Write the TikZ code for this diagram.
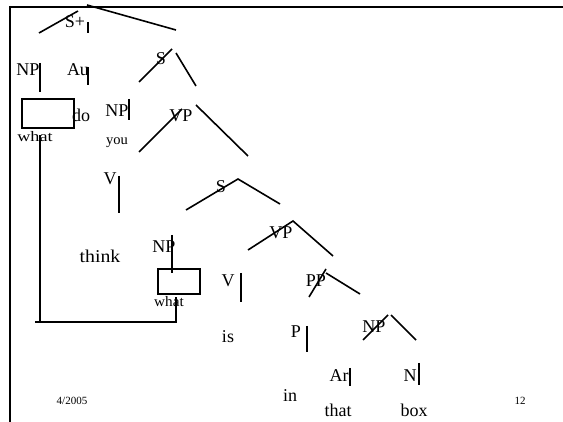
\documentclass[tikz,border=0pt]{standalone}
\usepackage{fontspec}
\setmainfont{Liberation Serif}
\begin{document}
\begin{tikzpicture}[x=1pt,y=-1pt,
  lbl/.style={anchor=base,inner sep=0pt,font=\fontsize{18}{18}\selectfont},
  sml/.style={anchor=base,inner sep=0pt,font=\fontsize{14.5}{15}\selectfont},
  foot/.style={anchor=base,inner sep=0pt,font=\fontsize{11}{11}\selectfont},
  br/.style={line width=1.6pt},
  frame/.style={line width=2.2pt}]
\useasboundingbox (0,0) rectangle (563,422);
% frame
\coordinate (f1) at (9,7); \coordinate (f2) at (563,7);
\coordinate (f3) at (10,6); \coordinate (f4) at (10,422);
\draw[frame] (f1) -- (f2);
\draw[frame] (f3) -- (f4);
% labels
\node[lbl] (splus) at (75,28) {S+};
\node[lbl] (np1) at (28,76) {NP};
\node[lbl] (au) at (78,76) {Au};
\node[lbl] (s1) at (161,65) {S};
\node[lbl] (do) at (81,122) {do};
\node[lbl] (np2) at (117,117) {NP};
\node[lbl] (vp1) at (181,122) {VP};
\node[sml,xscale=1.25] (what1) at (35,142) {what};
\node[sml] (you) at (117,145) {you};
\node[lbl] (v1) at (110,185) {V};
\node[lbl,xscale=1.1] (think) at (100,263) {think};
\node[lbl] (np3) at (164,253) {NP};
\node[sml,xscale=1.05] (what2) at (169,307) {what};
\node[lbl] (s2) at (221,193) {S};
\node[lbl] (vp2) at (281,239) {VP};
\node[lbl] (v2) at (228,287) {V};
\node[lbl] (pp) at (316,287) {PP};
\node[lbl] (is) at (228,343) {is};
\node[lbl] (p) at (296,338) {P};
\node[lbl] (np4) at (374,333) {NP};
\node[lbl] (art) at (339,382) {Ar};
\node[lbl] (n) at (410,382) {N};
\node[lbl] (in) at (290,402) {in};
\node[lbl] (that) at (338,417) {that};
\node[lbl] (box) at (414,417) {box};
\node[foot] (date) at (72,405) {4/2005};
\node[foot] (page) at (520,405) {12};
% branch end points
\coordinate (a1) at (87,5);   \coordinate (a2) at (176,30);
\coordinate (a3) at (39,33);  \coordinate (a4) at (78,11);
\coordinate (b1) at (88,22);  \coordinate (b2) at (88,33);
\coordinate (b3) at (40,63);  \coordinate (b4) at (40,92);
\coordinate (b5) at (88,67);  \coordinate (b6) at (88,85);
\coordinate (c1) at (139,82); \coordinate (c2) at (172,49);
\coordinate (c3) at (176,53); \coordinate (c4) at (196,86);
\coordinate (b7) at (129,99); \coordinate (b8) at (129,120);
\coordinate (d1) at (139,152); \coordinate (d2) at (182,109);
\coordinate (d3) at (196,105); \coordinate (d4) at (248,156);
\coordinate (b9) at (119,176); \coordinate (b10) at (119,213);
\coordinate (e1) at (186,210); \coordinate (e2) at (238,179);
\coordinate (e3) at (280,204);
\coordinate (b11) at (172,235); \coordinate (b12) at (172,273);
\coordinate (g1) at (248,250); \coordinate (g2) at (293,221);
\coordinate (g3) at (333,256);
\coordinate (b13) at (241,273); \coordinate (b14) at (241,302);
\coordinate (h1) at (309,297); \coordinate (h2) at (326,269);
\coordinate (h3) at (326,273); \coordinate (h4) at (360,294);
\coordinate (b15) at (307,326); \coordinate (b16) at (307,352);
\coordinate (k1) at (363,340); \coordinate (k2) at (388,315);
\coordinate (k3) at (391,315); \coordinate (k4) at (416,340);
\coordinate (b17) at (350,368); \coordinate (b18) at (350,386);
\coordinate (b19) at (419,363); \coordinate (b20) at (419,385);
% branches
\draw[br] (a1) -- (a2);
\draw[br] (a3) -- (a4);
\draw[br] (b1) -- (b2);
\draw[br] (b3) -- (b4);
\draw[br] (b5) -- (b6);
\draw[br] (c1) -- (c2);
\draw[br] (c3) -- (c4);
\draw[br] (b7) -- (b8);
\draw[br] (d1) -- (d2);
\draw[br] (d3) -- (d4);
\draw[br] (b9) -- (b10);
\draw[br] (e1) -- (e2) -- (e3);
\draw[br] (b11) -- (b12);
\draw[br] (g1) -- (g2) -- (g3);
\draw[br] (b13) -- (b14);
\draw[br] (h1) -- (h2);
\draw[br] (h3) -- (h4);
\draw[br] (b15) -- (b16);
\draw[br] (k1) -- (k2);
\draw[br] (k3) -- (k4);
\draw[br] (b17) -- (b18);
\draw[br] (b19) -- (b20);
% boxes
\coordinate (x1) at (22,99);  \coordinate (x2) at (74,128);
\coordinate (y1) at (158,269); \coordinate (y2) at (200,294);
\draw[br] (x1) rectangle (x2);
\draw[br] (y1) rectangle (y2);
% movement link
\coordinate (m1) at (40,135); \coordinate (m2) at (40,322);
\coordinate (m3) at (35,322); \coordinate (m4) at (176,322);
\coordinate (m5) at (176,297);
\draw[br] (m1) -- (m2);
\draw[br] (m3) -- (m4) -- (m5);
\end{tikzpicture}
\end{document}
